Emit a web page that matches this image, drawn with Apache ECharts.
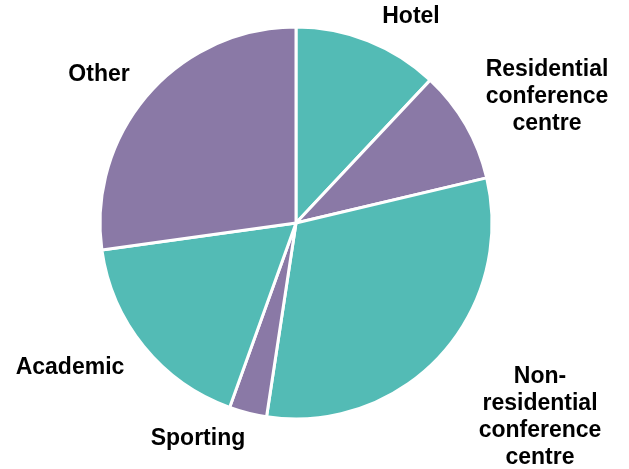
<!DOCTYPE html>
<html>
<head>
<meta charset="utf-8">
<script src="https://cdn.jsdelivr.net/npm/echarts@6/dist/echarts.min.js"></script>
<style>html,body{margin:0;padding:0;background:#fff}#c{width:629px;height:469px}</style>
</head>
<body>
<div id="c"></div>
<script>
var categories = ["Hotel", "Residential\nconference\ncentre", "Non-\nresidential\nconference\ncentre", "Sporting", "Academic", "Other"];
var values = [12.0, 9.3, 31.1, 3.1, 17.3, 27.2];
var colors = ["#53BBB5", "#8A79A6", "#53BBB5", "#8A79A6", "#53BBB5", "#8A79A6"];
var labelPos = [[411, 17], [547, 97], [540, 417], [198, 439], [70, 368], [99, 75]];

var chart = echarts.init(document.getElementById('c'));
chart.setOption({
  animation: false,
  series: [{
    type: 'pie',
    center: [296, 223],
    radius: 196,
    startAngle: 90,
    clockwise: true,
    data: categories.map(function (c, i) {
      return { name: c, value: values[i], itemStyle: { color: colors[i] } };
    }),
    itemStyle: { borderColor: '#fff', borderWidth: 3 },
    label: {
      show: true,
      position: 'outside',
      formatter: '{b}',
      fontFamily: 'Liberation Sans, Arial, sans-serif',
      fontWeight: 'bold',
      fontSize: 23,
      lineHeight: 27,
      color: '#000',
      align: 'center',
      overflow: 'none',
      width: 200
    },
    labelLine: { show: false },
    labelLayout: function (p) {
      var pos = labelPos[p.dataIndex];
      return { x: pos[0], y: pos[1], align: 'center', verticalAlign: 'middle', width: 200 };
    },
    emphasis: { disabled: true }
  }]
});
</script>
</body>
</html>
